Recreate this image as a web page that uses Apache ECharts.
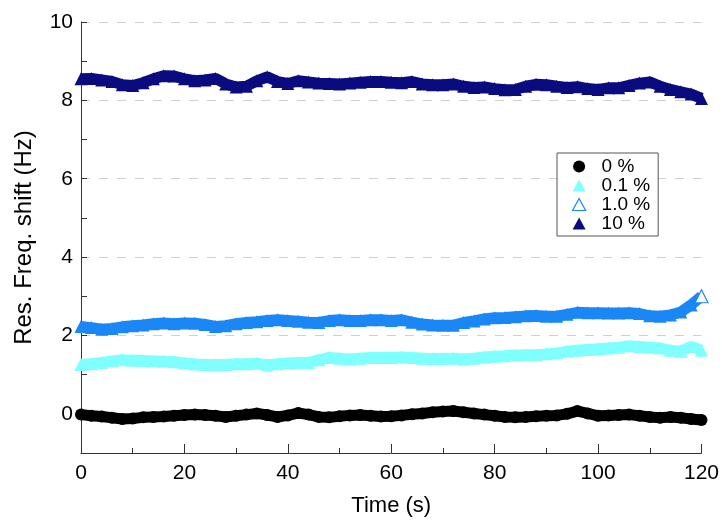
<!DOCTYPE html>
<html>
<head>
<meta charset="utf-8">
<script src="https://cdn.jsdelivr.net/npm/echarts@6/dist/echarts.min.js"></script>
<style>html,body{margin:0;padding:0;background:#fff}#c{width:722px;height:524px}</style>
</head>
<body>
<div id="c"></div>
<script>
const times = [0,2,4,6,8,10,12,14,16,18,20,22,24,26,28,30,32,34,36,38,40,42,44,46,48,50,52,54,56,58,60,62,64,66,68,70,72,74,76,78,80,82,84,86,88,90,92,94,96,98,100,102,104,106,108,110,112,114,116,118,120];
const seriesNames = ['0 %', '0.1 %', '1.0 %', '10 %'];
const s0 = [-0.02,-0.05,-0.07,-0.10,-0.13,-0.12,-0.09,-0.08,-0.07,-0.05,-0.03,-0.02,-0.03,-0.05,-0.08,-0.05,-0.02,0.01,-0.03,-0.08,-0.04,0.02,-0.02,-0.08,-0.09,-0.06,-0.04,-0.03,-0.05,-0.07,-0.06,-0.04,-0.01,0.01,0.04,0.06,0.07,0.04,0.01,-0.02,-0.05,-0.08,-0.09,-0.08,-0.06,-0.05,-0.04,0.00,0.07,0.01,-0.05,-0.04,-0.03,-0.02,-0.05,-0.08,-0.10,-0.08,-0.10,-0.13,-0.16];
const s01 = [1.26,1.28,1.31,1.35,1.38,1.37,1.36,1.35,1.34,1.33,1.30,1.27,1.26,1.26,1.26,1.28,1.28,1.29,1.25,1.28,1.30,1.31,1.31,1.38,1.44,1.42,1.40,1.42,1.44,1.44,1.44,1.45,1.44,1.42,1.41,1.41,1.42,1.40,1.42,1.45,1.47,1.48,1.50,1.51,1.51,1.53,1.55,1.60,1.62,1.64,1.66,1.68,1.70,1.74,1.72,1.70,1.68,1.62,1.60,1.72,1.62];
const s1 = [2.23,2.20,2.16,2.18,2.22,2.25,2.27,2.30,2.32,2.30,2.32,2.31,2.28,2.23,2.25,2.30,2.33,2.35,2.38,2.40,2.38,2.36,2.34,2.33,2.38,2.40,2.38,2.38,2.40,2.40,2.38,2.40,2.34,2.29,2.27,2.26,2.26,2.33,2.37,2.42,2.45,2.46,2.48,2.50,2.51,2.49,2.49,2.54,2.59,2.58,2.58,2.57,2.57,2.58,2.56,2.50,2.49,2.52,2.60,2.78,3.00];
const s10 = [8.55,8.56,8.52,8.48,8.40,8.38,8.45,8.55,8.63,8.62,8.55,8.50,8.52,8.56,8.42,8.34,8.36,8.50,8.60,8.48,8.43,8.50,8.47,8.44,8.43,8.42,8.44,8.46,8.48,8.48,8.46,8.45,8.48,8.42,8.40,8.40,8.42,8.36,8.33,8.34,8.30,8.27,8.28,8.36,8.41,8.40,8.36,8.33,8.35,8.30,8.28,8.32,8.32,8.38,8.44,8.47,8.36,8.28,8.22,8.16,8.05];
const xTicks = [0,20,40,60,80,100,120];
const yTicks = [0,2,4,6,8,10];

const colors = ['#000000', '#80ffff', '#1a87f5', '#0b0b80'];
const symbols = ['circle', 'triangle', 'triangle', 'triangle'];
const values = [s0, s01, s1, s10];

function pairs(v) { return times.map((t, i) => [t, v[i]]); }

const series = values.map((v, k) => {
  const data = pairs(v);
  if (k === 2) {
    const last = data.length - 1;
    data[last] = { value: data[last], itemStyle: { color: '#ffffff', borderColor: colors[2], borderWidth: 1.2 } };
  }
  return {
    name: seriesNames[k],
    type: 'line',
    data: data,
    symbol: symbols[k],
    symbolSize: k === 0 ? 12 : 13,
    showSymbol: true,
    showAllSymbol: true,
    smooth: false,
    lineStyle: { color: colors[k], width: 11 },
    itemStyle: { color: colors[k], borderWidth: 0 },
    emphasis: { disabled: true },
    animation: false,
    z: 2 + k
  };
});

const chart = echarts.init(document.getElementById('c'), null, { renderer: 'canvas' });
const font = 'Liberation Sans, Arial, sans-serif';
chart.setOption({
  animation: false,
  backgroundColor: '#ffffff',
  grid: { left: 81, right: 19, top: 22, bottom: 71, containLabel: false },
  legend: {
    orient: 'vertical',
    left: 557,
    top: 153,
    padding: [4, 8, 3, 15],
    itemGap: 0,
    itemWidth: 13,
    itemHeight: 12,
    symbolKeepAspect: true,
    borderColor: '#555555',
    borderWidth: 1,
    backgroundColor: '#ffffff',
    selectedMode: false,
    textStyle: { fontFamily: font, fontSize: 19, color: '#000', lineHeight: 18, padding: [0, 0, 0, 11] },
    data: [
      { name: seriesNames[0], icon: 'circle', itemStyle: { color: colors[0] } },
      { name: seriesNames[1], icon: 'triangle', itemStyle: { color: colors[1] } },
      { name: seriesNames[2], icon: 'triangle', itemStyle: { color: '#ffffff', borderColor: colors[2], borderWidth: 1.2 } },
      { name: seriesNames[3], icon: 'triangle', itemStyle: { color: colors[3] } }
    ]
  },
  xAxis: {
    type: 'value',
    min: 0, max: 120, interval: 20,
    name: 'Time (s)',
    nameLocation: 'middle',
    nameGap: 42,
    nameTextStyle: { fontFamily: font, fontSize: 22, color: '#000' },
    axisLine: { show: true, onZero: false, lineStyle: { color: '#333', width: 1 } },
    axisTick: { show: true, inside: true, length: 9, lineStyle: { color: '#333' } },
    minorTick: { show: true, splitNumber: 2, length: 5, lineStyle: { color: '#333' } },
    axisLabel: { fontFamily: font, fontSize: 21, color: '#000', margin: 10,
      formatter: v => xTicks.includes(v) ? String(v) : '' },
    splitLine: { show: false }
  },
  yAxis: {
    type: 'value',
    min: -1, max: 10, interval: 1,
    name: 'Res. Freq. shift (Hz)',
    nameLocation: 'middle',
    nameGap: 45,
    nameTextStyle: { fontFamily: font, fontSize: 24, color: '#000' },
    axisLine: { show: true, onZero: false, lineStyle: { color: '#333', width: 1 } },
    axisTick: { show: true, inside: true, length: 6, lineStyle: { color: '#333' } },
    axisLabel: { fontFamily: font, fontSize: 21, color: '#000', margin: 8,
      formatter: v => yTicks.includes(v) ? String(v) : '' },
    splitLine: { show: true, lineStyle: { type: [9, 9], width: 1,
      color: ['rgba(0,0,0,0)', '#d0d0d0'] } }
  },
  series: series
});
</script>
</body>
</html>
